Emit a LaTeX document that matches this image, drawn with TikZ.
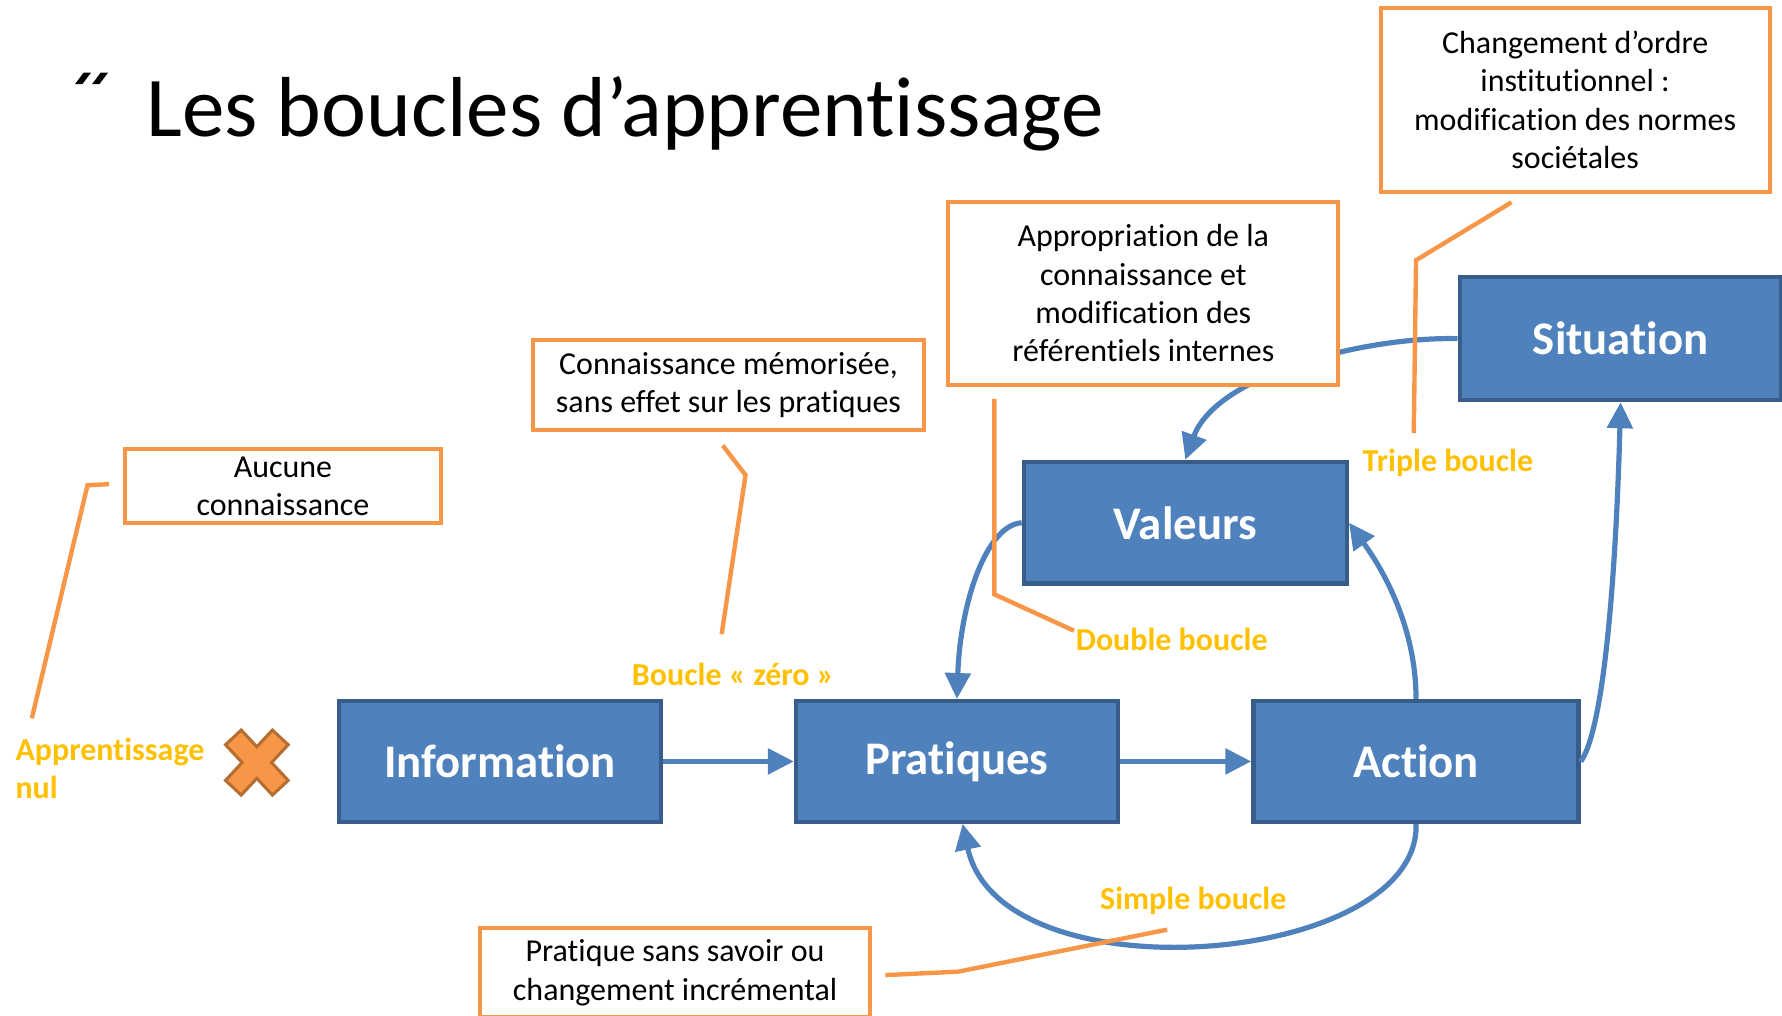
\documentclass[tikz,border=0pt]{standalone}
\usepackage{fontspec}
\setmainfont{Carlito}[Ligatures=NoCommon]
\usetikzlibrary{arrows.meta}
\definecolor{bleu}{HTML}{4F81BD}
\definecolor{bleufonce}{HTML}{385D8A}
\definecolor{cadre}{HTML}{F79646}
\definecolor{jaune}{HTML}{FFC000}
\definecolor{brun}{HTML}{B66D31}
\begin{document}
\begin{tikzpicture}[x=0.01cm,y=-0.01cm,
  boite/.style={draw=bleufonce,line width=1.1pt,fill=bleu,text=white,font=\fontsize{11.7}{14}\selectfont\bfseries,minimum width=2.83cm,minimum height=1.06cm,inner sep=0pt},
  bulle/.style={draw=cadre,line width=1pt,fill=white,align=center,font=\fontsize{8}{9.6}\selectfont,inner sep=0pt},
  etiq/.style={text=jaune,font=\fontsize{8}{9.4}\selectfont\bfseries,inner sep=0pt},
  fleche/.style={draw=bleu,line width=1.3pt,-{Triangle[length=6.5pt,width=6.3pt]}},
  renvoi/.style={draw=cadre,line width=1.1pt}]
\useasboundingbox (0,0) rectangle (1568,894);
\fill (66,74) -- (72.5,74) -- (80,64) -- (73.5,64) -- cycle (81,74) -- (87.5,74) -- (95,64) -- (88.5,64) -- cycle;
\node[anchor=base west,font=\fontsize{21.3}{25}\selectfont,inner sep=0pt] (titre) at (128,120) {Les boucles d’apprentissage};
\node[boite] (info) at (440,670) {Information};
\node[boite] (prat) at (842,670) {Pratiques};
\node[boite,minimum width=2.86cm] (action) at (1246,670) {Action};
\node[boite,minimum width=2.84cm,minimum height=1.07cm] (val) at (1043,460) {Valeurs};
\node[boite,minimum height=1.08cm] (sit) at (1426,298) {Situation};
\draw[fleche] (info) -- (prat);
\draw[fleche] (prat) -- (action);
\draw[fleche] (action.east) .. controls (1412,640) and (1422,500) .. (sit.south);
\draw[fleche] (action.north) .. controls (1246,540) and (1205,485) .. (val.east);
\draw[fleche] (val.west) .. controls (868,462) and (845,530) .. (prat.north);
\draw[fleche] (sit.west) .. controls (1200,296) and (1070,330) .. (val.north);
\draw[fleche] (action.south) .. controls (1250,850) and (880,880) .. ([xshift=0.05cm]prat.south);
\node[bulle,minimum width=2.78cm,minimum height=0.65cm] (aucune) at (249,428) {Aucune\\connaissance};
\node[bulle,minimum width=3.43cm,minimum height=0.79cm] (memo) at (641,339) {Connaissance mémorisée,\\sans effet sur les pratiques};
\node[bulle,minimum width=3.43cm,minimum height=1.61cm] (appro) at (1006,258) {Appropriation de la\\connaissance et\\modification des\\référentiels internes};
\node[bulle,minimum width=3.42cm,minimum height=1.61cm] (insti) at (1386,88) {Changement d’ordre\\institutionnel :\\modification des normes\\sociétales};
\node[bulle,minimum width=3.43cm,minimum height=0.78cm] (incre) at (594,856) {Pratique sans savoir ou\\changement incrémental};
\node[etiq,align=left,anchor=west] (nul) at (13,676) {Apprentissage\\nul};
\node[etiq] (zero) at (645,593) {Boucle « zéro »};
\node[etiq] (double) at (1031,563) {Double boucle};
\node[etiq] (triple) at (1274,407) {Triple boucle};
\node[etiq] (simple) at (1050,793) {Simple boucle};
\path (28,632) coordinate (N1) (77,427) coordinate (N2) (96,426) coordinate (N3)
      (635,558) coordinate (Z1) (656,418) coordinate (Z2) (636,392) coordinate (Z3)
      (875,351) coordinate (D1) (875,523) coordinate (D2) (945,555) coordinate (D3)
      (1244,381) coordinate (T1) (1246,229) coordinate (T2) (1330,178) coordinate (T3)
      (1027,818) coordinate (S1) (843,855) coordinate (S2) (779,858) coordinate (S3);
\draw[renvoi] (N1) -- (N2) -- (N3);
\draw[renvoi] (Z1) -- (Z2) -- (Z3);
\draw[renvoi] (D1) -- (D2) -- (D3);
\draw[renvoi] (T1) -- (T2) -- (T3);
\draw[renvoi] (S1) -- (S2) -- (S3);
\begin{scope}[shift={(226,671)}]
\foreach \a in {47,-47} \draw[brun,line width=1.6pt,rotate=\a] (-28.8,-8) rectangle (28.8,8);
\foreach \a in {47,-47} \fill[cadre,rotate=\a] (-28.8,-8) rectangle (28.8,8);
\end{scope}
\end{tikzpicture}
\end{document}
